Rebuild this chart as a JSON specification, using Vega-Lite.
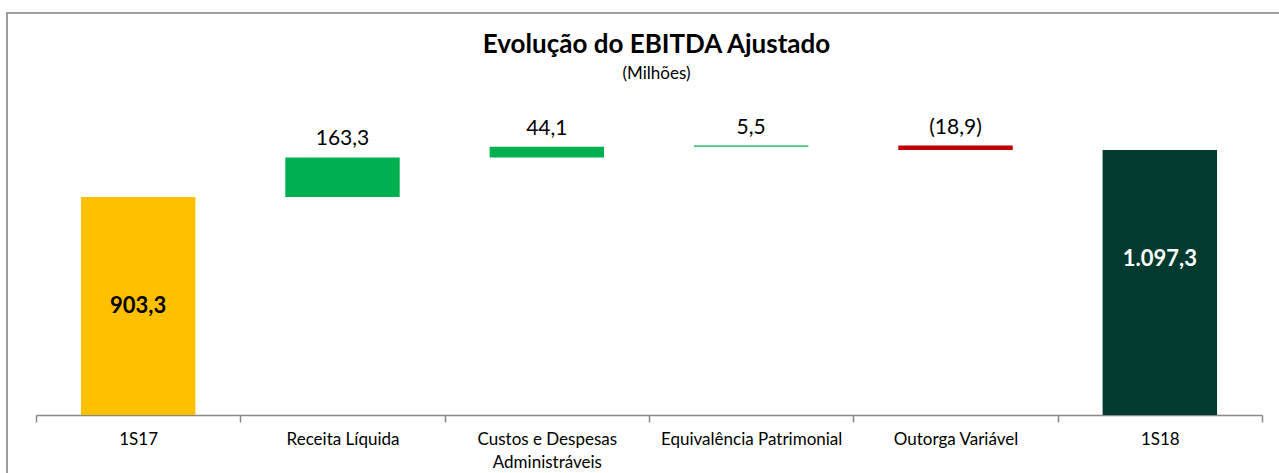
{
  "$schema": "https://vega.github.io/schema/vega-lite/v6.json",
  "width": 1275,
  "height": 463,
  "autosize": "none",
  "padding": {"left": 7, "top": 13, "right": -3, "bottom": -3},
  "background": "white",
  "config": {
    "view": {"stroke": "#7f7f7f", "strokeWidth": 1.5},
    "font": "Lato"
  },
  "title": {
    "text": "Evolução do EBITDA Ajustado",
    "subtitle": "(Milhões)",
    "anchor": "middle",
    "frame": "group",
    "font": "Lato",
    "fontSize": 26,
    "fontWeight": "bold",
    "color": "#000000",
    "subtitleFont": "Lato",
    "subtitleFontSize": 17,
    "subtitleColor": "#000000",
    "subtitlePadding": 8,
    "offset": -69,
    "dx": 12
  },
  "data": {
    "values": [
      {"categoria": "1S17", "inicio": 0, "fim": 903.3, "rotulo": "903,3", "tipo": "inicial"},
      {"categoria": "Receita Líquida", "inicio": 903.3, "fim": 1066.6, "rotulo": "163,3", "tipo": "variacao"},
      {"categoria": "Custos e Despesas Administráveis", "inicio": 1066.6, "fim": 1110.7, "rotulo": "44,1", "tipo": "variacao"},
      {"categoria": "Equivalência Patrimonial", "inicio": 1110.7, "fim": 1116.2, "rotulo": "5,5", "tipo": "variacao"},
      {"categoria": "Outorga Variável", "inicio": 1116.2, "fim": 1097.3, "rotulo": "(18,9)", "tipo": "variacao"},
      {"categoria": "1S18", "inicio": 0, "fim": 1097.3, "rotulo": "1.097,3", "tipo": "final"}
    ]
  },
  "encoding": {
    "x": {
      "field": "categoria",
      "type": "nominal",
      "sort": null,
      "scale": {"range": [29, 1255], "paddingInner": 0, "paddingOuter": 0},
      "axis": {
        "title": null,
        "orient": "bottom",
        "offset": -61,
        "tickBand": "extent",
        "domainColor": "#898989",
        "domainWidth": 1.5,
        "tickColor": "#898989",
        "tickWidth": 1.5,
        "tickSize": 7,
        "labelAngle": 0,
        "labelFont": "Lato",
        "labelFontSize": 17,
        "labelColor": "#000000",
        "labelPadding": 9,
        "labelLimit": 400,
        "labelOverlap": false,
        "labelLineHeight": 23,
        "labelExpr": "datum.value == 'Custos e Despesas Administráveis' ? ['Custos e Despesas', 'Administráveis'] : datum.label"
      }
    }
  },
  "layer": [
    {
      "mark": {"type": "bar", "width": {"band": 0.56}},
      "encoding": {
        "y": {
          "field": "inicio",
          "type": "quantitative",
          "scale": {"domain": [0, 1400], "range": [402, 64], "nice": false, "zero": true},
          "axis": null
        },
        "y2": {"field": "fim"},
        "color": {
          "field": "categoria",
          "type": "nominal",
          "scale": {
            "domain": ["1S17", "Receita Líquida", "Custos e Despesas Administráveis", "Equivalência Patrimonial", "Outorga Variável", "1S18"],
            "range": ["#FFC000", "#00B050", "#00B050", "#00B050", "#C00000", "#013A2F"]
          },
          "legend": null
        }
      }
    },
    {
      "transform": [
        {"filter": "datum.tipo == 'variacao'"},
        {"calculate": "max(datum.inicio, datum.fim)", "as": "topo"}
      ],
      "mark": {"type": "text", "baseline": "bottom", "dy": -8, "fontSize": 21, "font": "Lato", "color": "#000000"},
      "encoding": {
        "y": {"field": "topo", "type": "quantitative"},
        "text": {"field": "rotulo"}
      }
    },
    {
      "transform": [
        {"filter": "datum.tipo == 'inicial'"},
        {"calculate": "datum.fim / 2", "as": "meio"}
      ],
      "mark": {"type": "text", "baseline": "middle", "fontSize": 22, "fontWeight": "bold", "font": "Lato", "color": "#000000"},
      "encoding": {
        "y": {"field": "meio", "type": "quantitative"},
        "text": {"field": "rotulo"}
      }
    },
    {
      "transform": [
        {"filter": "datum.tipo == 'final'"},
        {"calculate": "datum.fim / 2", "as": "meio"}
      ],
      "mark": {"type": "text", "baseline": "middle", "dy": -24, "fontSize": 22, "fontWeight": "bold", "font": "Lato", "color": "#ffffff"},
      "encoding": {
        "y": {"field": "meio", "type": "quantitative"},
        "text": {"field": "rotulo"}
      }
    }
  ]
}
